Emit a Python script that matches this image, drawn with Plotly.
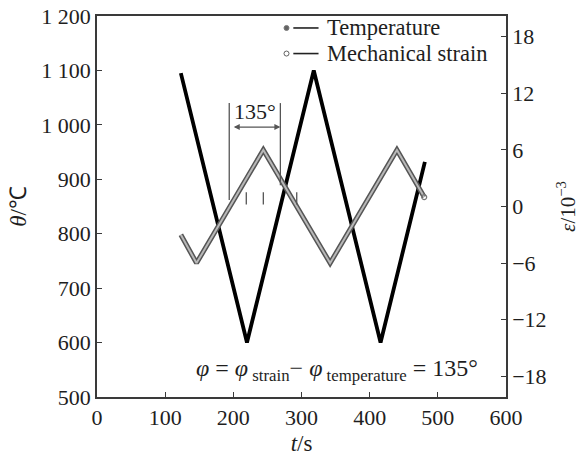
import plotly.graph_objects as go

# ---- data ----
t_temp = [123, 220, 318, 416, 481]
theta = [1095, 600, 1100, 600, 932]

t_strain = [123, 146, 244, 342, 440, 480]
eps = [-3.0, -6.0, 6.0, -6.0, 6.0, 1.0]

x_ticks = [0, 100, 200, 300, 400, 500, 600]
y_ticks = [500, 600, 700, 800, 900, 1000, 1100, 1200]
y_ticklabels = ["500", "600", "700", "800", "900", "1 000", "1 100", "1 200"]
y2_ticks = [-18, -12, -6, 0, 6, 12, 18]
y2_ticklabels = ["\u221218", "\u221212", "\u22126", "0", "6", "12", "18"]

legend_names = ["Temperature", "Mechanical strain"]

# bracket / phase marks
bracket_t = [194, 269]
mark_t = [219, 244, 293]

FONT = "Liberation Serif, Times New Roman, serif"
AX = "#3a3a3a"
TXT = "#1e1e1e"
LEG_Y = [1178, 1131]

fig = go.Figure()

# strain: double (outlined) grey line
fig.add_trace(go.Scatter(x=t_strain, y=eps, yaxis="y2", mode="lines",
                         line=dict(color="#555555", width=5), showlegend=False, hoverinfo="skip"))
fig.add_trace(go.Scatter(x=t_strain, y=eps, yaxis="y2", mode="lines",
                         line=dict(color="#b8b8b8", width=2), showlegend=False))
fig.add_trace(go.Scatter(x=[t_strain[-1]], y=[eps[-1]], yaxis="y2", mode="markers",
                         marker=dict(symbol="circle-open", size=5, color="#777777", line=dict(width=1.2)),
                         showlegend=False))

# temperature
fig.add_trace(go.Scatter(x=t_temp, y=theta, mode="lines",
                         line=dict(color="black", width=3.8), showlegend=False))

shapes = []
# bracket vertical lines
shapes.append(dict(type="line", xref="x", yref="y", x0=bracket_t[0], x1=bracket_t[0], y0=1040, y1=862,
                   line=dict(color="#555555", width=1.3)))
shapes.append(dict(type="line", xref="x", yref="y", x0=bracket_t[1], x1=bracket_t[1], y0=1040, y1=889,
                   line=dict(color="#555555", width=1.3)))
for mt in mark_t:
    shapes.append(dict(type="line", xref="x", yref="y2", x0=mt, x1=mt, y0=0.2, y1=1.5,
                       line=dict(color="#555555", width=1.3)))
# legend dashes
for yy in LEG_Y:
    shapes.append(dict(type="line", xref="x", yref="y", x0=288, x1=325, y0=yy, y1=yy,
                       line=dict(color="#222222", width=1.6)))

annotations = []
# double-headed arrow
annotations.append(dict(x=bracket_t[1], y=996, ax=bracket_t[0], ay=996, xref="x", yref="y",
                        axref="x", ayref="y", showarrow=True, arrowhead=2, startarrowhead=2,
                        arrowside="end+start", arrowsize=1, arrowwidth=1.2, arrowcolor="#555555", text=" "))
annotations.append(dict(x=(bracket_t[0] + bracket_t[1]) / 2, y=1024, xref="x", yref="y", text="135°",
                        showarrow=False, font=dict(family=FONT, size=22, color=TXT)))
annotations.append(dict(x=352, y=550, xref="x", yref="y", showarrow=False,
                        text="<i>φ</i> = <i>φ</i><sub> strain</sub>− <i>φ</i><sub> temperature</sub> = 135°",
                        font=dict(family=FONT, size=24, color=TXT)))
# legend texts
for name, yy in zip(legend_names, LEG_Y):
    annotations.append(dict(x=335, y=yy, xref="x", yref="y", xanchor="left", yanchor="middle",
                            showarrow=False, text=name, font=dict(family=FONT, size=22.5, color=TXT)))

fig.update_layout(
    width=582, height=457,
    margin=dict(l=97, r=76, t=16, b=60, autoexpand=False),
    paper_bgcolor="white", plot_bgcolor="white",
    font=dict(family=FONT, size=22, color=TXT),
    showlegend=False,
    xaxis=dict(range=[0, 600], tickvals=x_ticks, ticks="inside", ticklen=5, tickcolor=AX,
               tickfont=dict(family=FONT, size=22), automargin=False,
               showline=True, linecolor=AX, linewidth=1.5, mirror=True, showgrid=False, zeroline=False,
               title=dict(text="<i>t</i>/s", font=dict(family=FONT, size=23), standoff=6)),
    yaxis=dict(range=[500, 1200], tickvals=y_ticks, ticktext=y_ticklabels, ticks="inside", ticklen=5,
               tickfont=dict(family=FONT, size=22), automargin=False,
               tickcolor=AX, showline=True, linecolor=AX, linewidth=1.5, mirror=True, showgrid=False,
               zeroline=False, title=dict(text="<i>θ</i>/℃", font=dict(family=FONT, size=23), standoff=8)),
    yaxis2=dict(range=[-20.2, 20.2], overlaying="y", side="right", tickvals=y2_ticks, ticktext=y2_ticklabels,
                tickfont=dict(family=FONT, size=22), automargin=False,
                ticks="inside", ticklen=5, tickcolor=AX, showline=True, linecolor=AX, linewidth=1.5,
                showgrid=False, zeroline=False,
                title=dict(text="<i>ε</i>/10<sup>−3</sup>", font=dict(family=FONT, size=21), standoff=15)),
    shapes=shapes,
    annotations=annotations,
)

# legend glyphs
fig.add_trace(go.Scatter(x=[278, 278], y=LEG_Y, mode="markers",
                         marker=dict(symbol=["circle", "circle-open"], size=[5, 5], color="#222222",
                                     line=dict(width=1, color="#444444")),
                         showlegend=False, hoverinfo="skip"))

fig.write_html("out.html")
